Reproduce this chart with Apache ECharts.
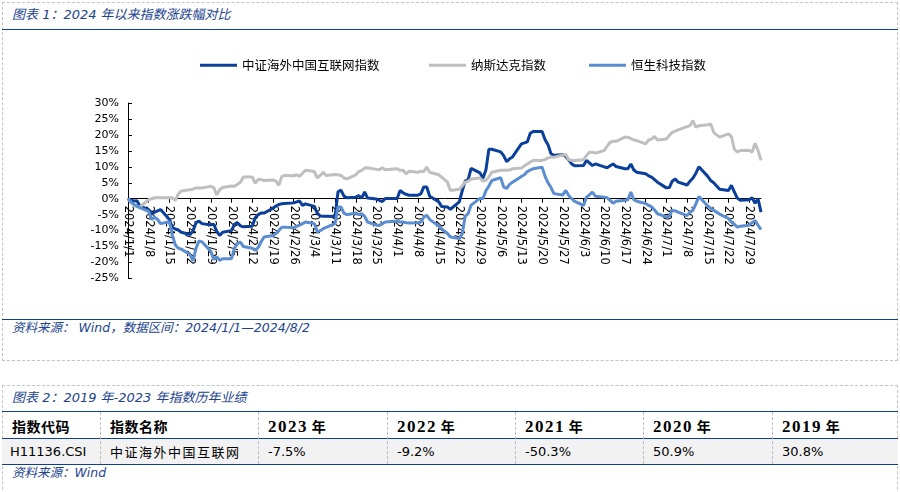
<!DOCTYPE html>
<html>
<head>
<meta charset="utf-8">
<script src="https://cdn.jsdelivr.net/npm/echarts@6/dist/echarts.min.js"></script>
<style>
  html, body { margin:0; padding:0; background:#fff; }
  body { width:900px; height:492px; position:relative; overflow:hidden; font-family:"Noto Sans CJK SC","DejaVu Sans",sans-serif; }
  .abs { position:absolute; }
  .box { position:absolute; border:1px dashed #c4c4c4; box-sizing:border-box; }
  .bline { position:absolute; height:1px; background:#0d3f93; }
  .title { position:absolute; font-style:italic; color:#21438f; font-size:13px; line-height:16px; white-space:nowrap; font-family:"DejaVu Sans","Noto Sans CJK SC",sans-serif; }
  .src { position:absolute; font-style:italic; color:#21438f; font-size:12.5px; line-height:15px; white-space:nowrap; font-family:"DejaVu Sans","Noto Sans CJK SC",sans-serif; }
  .vsep { position:absolute; top:412px; height:52px; border-left:1px dashed #bdbdbd; }
  .th { position:absolute; top:412px; height:26px; line-height:26px; font-weight:bold; color:#000; white-space:nowrap; }
  .td { position:absolute; top:439px; height:25px; line-height:25px; color:#000; white-space:nowrap; font-family:"DejaVu Sans",sans-serif; font-size:13px; }
  .yr { font-family:"Liberation Serif",serif; font-size:17px; letter-spacing:1.5px; }
  .cjk { font-family:"Noto Sans CJK SC",sans-serif; }
  #chart { position:absolute; left:0; top:0; width:900px; height:360px; }
</style>
</head>
<body>
<div class="box" style="left:2px;top:2px;width:896px;height:359px;"></div>
<div class="title" style="left:12px;top:7px;">图表 1：2024 年以来指数涨跌幅对比</div>
<div class="bline" style="left:2px;top:29px;width:896px;"></div>
<div class="bline" style="left:2px;top:319px;width:896px;"></div>
<div class="src" style="left:12px;top:320px;">资料来源： Wind，数据区间：2024/1/1—2024/8/2</div>
<div id="chart"></div>

<div class="box" style="left:2px;top:385px;width:896px;height:130px;"></div>
<div class="title" style="left:12px;top:390px;">图表 2：2019 年-2023 年指数历年业绩</div>
<div class="abs" style="left:2px;top:438px;width:896px;height:26px;background:#f2f2f2;"></div>
<div class="bline" style="left:2px;top:411px;width:896px;"></div>
<div class="bline" style="left:2px;top:438px;width:896px;"></div>
<div class="bline" style="left:2px;top:464px;width:896px;"></div>
<div id="table"></div>
<div class="src" style="left:12px;top:465px;">资料来源：Wind</div>

<script>
// ---------- Chart 1 data (cumulative change since 2024/1/1, %) ----------
const seriesNames = ['中证海外中国互联网指数', '纳斯达克指数', '恒生科技指数'];

const cnDates = ['1/1','1/2','1/3','1/4','1/5','1/8','1/9','1/10','1/11','1/12','1/15','1/16','1/17','1/18','1/19','1/22','1/23','1/24','1/25','1/26','1/29','1/30','1/31','2/1','2/2','2/5','2/6','2/7','2/8','2/9','2/12','2/13','2/14','2/15','2/16','2/19','2/20','2/21','2/22','2/23','2/26','2/27','2/28','2/29','3/1','3/4','3/5','3/6','3/7','3/8','3/11','3/12','3/13','3/14','3/15','3/18','3/19','3/20','3/21','3/22','3/25','3/26','3/27','3/28','4/1','4/2','4/3','4/4','4/5','4/8','4/9','4/10','4/11','4/12','4/15','4/16','4/17','4/18','4/19','4/22','4/23','4/24','4/25','4/26','4/29','4/30','5/1','5/2','5/3','5/6','5/7','5/8','5/9','5/10','5/13','5/14','5/15','5/16','5/17','5/20','5/21','5/22','5/23','5/24','5/27','5/28','5/29','5/30','5/31','6/3','6/4','6/5','6/6','6/7','6/10','6/11','6/12','6/13','6/14','6/17','6/18','6/19','6/20','6/21','6/24','6/25','6/26','6/27','6/28','7/1','7/2','7/3','7/4','7/5','7/8','7/9','7/10','7/11','7/12','7/15','7/16','7/17','7/18','7/19','7/22','7/23','7/24','7/25','7/26','7/29','7/30','7/31','8/1','8/2'];
const cnValues = [0,-0.5,-0.7,-0.6,-2.2,-3.5,-4.8,-4.2,-3.8,-3.4,-6.5,-9.0,-9.5,-9.8,-10.5,-11.2,-10.0,-7.5,-7.0,-7.8,-8.2,-8.0,-10.2,-11.5,-10.5,-10.0,-8.0,-7.5,-8.5,-8.8,-8.6,-6.0,-5.0,-4.5,-4.5,-3.0,-2.3,-1.8,-1.6,-1.5,-1.3,-1.0,-0.7,-2.1,-1.6,-2.4,-4.5,-5.4,-5.5,-5.5,-5.6,2.2,2.7,0.8,0.3,0.5,1.0,0.2,2.1,0.2,-0.1,-0.5,-0.9,0.1,0.1,2.6,1.8,1.4,1.1,1.1,1.5,3.7,3.7,0.8,-0.9,-2.4,-2.5,-2.6,-3.3,-1.0,2.5,5.5,6.0,9.5,8.1,6.4,9.0,15.5,15.5,14.7,13.5,11.6,12.5,13.1,17.2,17.5,17.8,20.5,21.1,21.1,18.5,16.9,14.1,13.6,13.8,13.2,12.1,10.9,10.3,10.4,12.0,11.2,10.4,10.9,10.0,9.7,10.3,10.9,10.1,9.4,9.4,10.9,9.0,8.3,7.8,7.2,6.8,6.0,5.2,3.4,3.5,5.5,6.2,5.2,4.3,5.5,6.5,8.0,10.0,7.0,5.7,5.0,4.0,3.0,2.6,4.2,2.1,0.2,-0.5,-0.3,0.3,-1.4,0.0,-4.2];

const ndDates = ['1/1','1/2','1/3','1/4','1/5','1/8','1/9','1/10','1/11','1/12','1/15','1/16','1/17','1/18','1/19','1/22','1/23','1/24','1/25','1/26','1/29','1/30','1/31','2/1','2/2','2/5','2/6','2/7','2/8','2/9','2/12','2/13','2/14','2/15','2/16','2/19','2/20','2/21','2/22','2/23','2/26','2/27','2/28','2/29','3/1','3/4','3/5','3/6','3/7','3/8','3/11','3/12','3/13','3/14','3/15','3/18','3/19','3/20','3/21','3/22','3/25','3/26','3/27','3/28','4/1','4/2','4/3','4/4','4/5','4/8','4/9','4/10','4/11','4/12','4/15','4/16','4/17','4/18','4/19','4/22','4/23','4/24','4/25','4/26','4/29','4/30','5/1','5/2','5/3','5/6','5/7','5/8','5/9','5/10','5/13','5/14','5/15','5/16','5/17','5/20','5/21','5/22','5/23','5/24','5/28','5/29','5/30','5/31','6/3','6/4','6/5','6/6','6/7','6/10','6/11','6/12','6/13','6/14','6/17','6/18','6/20','6/21','6/24','6/25','6/26','6/27','6/28','7/1','7/2','7/3','7/5','7/8','7/9','7/10','7/11','7/12','7/15','7/16','7/17','7/18','7/19','7/22','7/23','7/24','7/25','7/26','7/29','7/30','7/31','8/1','8/2'];
const ndValues = [0,-1.2,-2.0,-2.5,-2.6,-0.3,0.0,0.3,0.3,0.3,0.3,0.3,-0.5,1.5,2.4,2.8,3.0,3.4,3.4,3.4,3.9,3.5,1.2,2.8,3.5,4.0,3.9,4.5,5.2,6.8,6.8,4.9,6.0,6.0,5.7,5.9,5.5,4.2,7.0,7.3,7.2,7.5,7.0,8.0,8.9,8.5,6.5,7.3,8.3,7.3,7.6,7.5,7.3,6.5,6.2,7.5,8.5,8.9,9.6,9.7,9.2,9.1,9.7,9.1,9.4,8.9,8.9,7.8,8.6,8.3,8.6,8.5,9.9,8.3,7.5,6.8,6.0,5.2,2.6,3.0,4.0,5.2,5.5,6.2,6.5,5.5,5.8,6.8,8.3,8.9,8.9,8.9,9.0,9.4,9.6,10.3,10.9,11.5,12.0,12.0,12.3,12.8,13.0,13.0,13.9,12.2,12.0,12.0,12.2,13.5,14.6,14.6,14.3,15.1,16.5,17.7,18.0,18.0,19.3,19.3,18.4,18.2,17.2,18.4,18.7,19.5,18.4,18.7,19.8,20.8,21.6,22.6,22.9,24.5,22.4,22.9,23.2,23.4,20.8,20.0,19.3,20.3,19.5,15.5,14.6,15.1,15.2,14.6,17.4,15.1,12.0];

const hsDates = cnDates;
const hsValues = [0,-1.0,-1.8,-2.3,-2.8,-4.0,-6.5,-5.8,-6.5,-7.8,-7.2,-11.5,-14.5,-15.5,-15.8,-17.5,-19.5,-15.5,-13.2,-13.5,-16.5,-19.0,-18.2,-19.3,-18.8,-18.8,-15.5,-14.0,-13.6,-15.0,-15.5,-16.2,-15.3,-13.5,-12.0,-11.5,-10.9,-10.0,-8.9,-8.9,-9.1,-8.7,-8.3,-7.8,-7.3,-7.8,-10.4,-10.0,-9.4,-9.0,-7.8,-2.6,-2.6,-4.5,-5.0,-4.5,-5.0,-4.7,-5.5,-7.3,-8.3,-8.3,-7.8,-7.3,-7.0,-7.3,-7.3,-7.5,-7.6,-7.5,-7.3,-5.8,-5.2,-6.5,-8.5,-9.4,-10.2,-10.9,-12.0,-12.5,-11.0,-5.5,-4.7,-2.0,0.1,0.1,2.5,4.0,5.7,6.6,3.7,3.2,4.5,5.2,7.0,7.5,8.5,9.0,9.4,9.9,7.0,5.0,3.5,1.6,1.2,2.6,1.0,0.0,-0.8,-2.1,0.5,1.2,2.1,0.8,0.5,0.3,-0.5,-1.4,-0.8,-0.5,-0.3,2.1,-0.3,-0.8,-1.5,-2.1,-2.5,-3.5,-4.7,-5.7,-5.5,-3.6,-3.8,-4.2,-5.3,-4.2,-3.6,-1.6,0.7,-2.3,-3.0,-3.6,-4.2,-4.8,-6.2,-7.3,-8.0,-8.9,-8.6,-8.3,-7.5,-6.8,-8.3,-9.7];

const axisStart = '1/1';
const axisEnd = '8/2';
const yTicks = { min: -25, max: 30, interval: 5 };

// ---------- Table data ----------
const tableHeaders = ['指数代码', '指数名称', '2023 年', '2022 年', '2021 年', '2020 年', '2019 年'];
const tableRow = ['H11136.CSI', '中证海外中国互联网', '-7.5%', '-9.2%', '-50.3%', '50.9%', '30.8%'];

// ---------- build calendar category axis ----------
function dayIndex(md) {
  const [m, d] = md.split('/').map(Number);
  return Math.round((Date.UTC(2024, m - 1, d) - Date.UTC(2024, 0, 1)) / 86400000);
}
const nDays = dayIndex(axisEnd) - dayIndex(axisStart) + 1;
const categories = [];
for (let i = 0; i < nDays; i++) {
  const dt = new Date(Date.UTC(2024, 0, 1 + i));
  categories.push('2024/' + (dt.getUTCMonth() + 1) + '/' + dt.getUTCDate());
}
const pairs = (dates, vals) => dates.map((d, i) => [dayIndex(d), vals[i]]);

const colors = ['#0b409a', '#bfbfbf', '#5b8dd1'];
const weekly = (idx) => idx % 7 === 0;

const gridTop = 103, gridBottom = 81.5, chartH = 360;
const plotH = chartH - gridTop - gridBottom;
// move the category axis up to the 0% line (axis sits on zero as in the reference)
const zeroOffset = -plotH * (0 - yTicks.min) / (yTicks.max - yTicks.min);

const chart = echarts.init(document.getElementById('chart'));
const legendText = { color: '#000', fontSize: 12.5, fontFamily: 'Noto Sans CJK SC' };
chart.setOption({
  animation: false,
  color: colors,
  legend: [
    { data: [seriesNames[0]], left: 200, top: 59, icon: 'rect', itemWidth: 37, itemHeight: 3, padding: 0, textStyle: legendText },
    { data: [seriesNames[1]], left: 429, top: 59, icon: 'rect', itemWidth: 37, itemHeight: 3, padding: 0, textStyle: legendText },
    { data: [seriesNames[2]], left: 589, top: 59, icon: 'rect', itemWidth: 37, itemHeight: 3, padding: 0, textStyle: legendText }
  ],
  grid: { left: 128, right: 139, top: gridTop, bottom: gridBottom, containLabel: false },
  xAxis: {
    type: 'category',
    data: categories,
    boundaryGap: false,
    position: 'bottom',
    offset: zeroOffset,
    axisLine: { show: true, onZero: false, lineStyle: { color: '#000', width: 1 } },
    axisTick: { show: true, interval: weekly, length: 4, lineStyle: { color: '#000' } },
    axisLabel: { interval: weekly, rotate: -90, margin: 7, color: '#000', fontSize: 11.5, fontFamily: 'DejaVu Sans' },
    splitLine: { show: false }
  },
  yAxis: {
    type: 'value',
    min: yTicks.min, max: yTicks.max, interval: yTicks.interval,
    axisLine: { show: true, lineStyle: { color: '#000', width: 1 } },
    axisTick: { show: true, inside: true, length: 4, lineStyle: { color: '#000' } },
    axisLabel: { formatter: '{value}%', color: '#000', fontSize: 11, fontFamily: 'DejaVu Sans', margin: 9 },
    splitLine: { show: false }
  },
  series: [
    { name: seriesNames[0], type: 'line', data: pairs(cnDates, cnValues), symbol: 'none', lineStyle: { width: 3, color: colors[0] }, z: 2 },
    { name: seriesNames[1], type: 'line', data: pairs(ndDates, ndValues), symbol: 'none', lineStyle: { width: 3, color: colors[1] }, z: 3 },
    { name: seriesNames[2], type: 'line', data: pairs(hsDates, hsValues), symbol: 'none', lineStyle: { width: 3, color: colors[2] }, z: 4 }
  ]
});

// ---------- table ----------
const colX = [2, 100, 258, 387, 515, 643, 772];
const table = document.getElementById('table');
colX.slice(1).forEach(x => {
  const s = document.createElement('div');
  s.className = 'vsep'; s.style.left = x + 'px';
  table.appendChild(s);
});
tableHeaders.forEach((h, i) => {
  const d = document.createElement('div');
  d.className = 'th';
  d.style.left = (i === 0 ? 12 : colX[i] + 10) + 'px';
  if (i < 2) {
    d.innerHTML = '<span class="cjk" style="font-size:14px;letter-spacing:0.5px">' + h + '</span>';
  } else {
    const parts = h.split(' ');
    d.innerHTML = '<span class="yr">' + parts[0] + '</span> <span class="cjk" style="font-size:14px">' + parts[1] + '</span>';
  }
  table.appendChild(d);
});
tableRow.forEach((t, i) => {
  const d = document.createElement('div');
  d.className = 'td' + (i === 1 ? ' cjk' : '');
  d.style.left = (i === 0 ? 10 : colX[i] + 10) + 'px';
  if (i === 1) { d.style.letterSpacing = '1.5px'; }
  d.textContent = t;
  table.appendChild(d);
});
</script>
</body>
</html>
